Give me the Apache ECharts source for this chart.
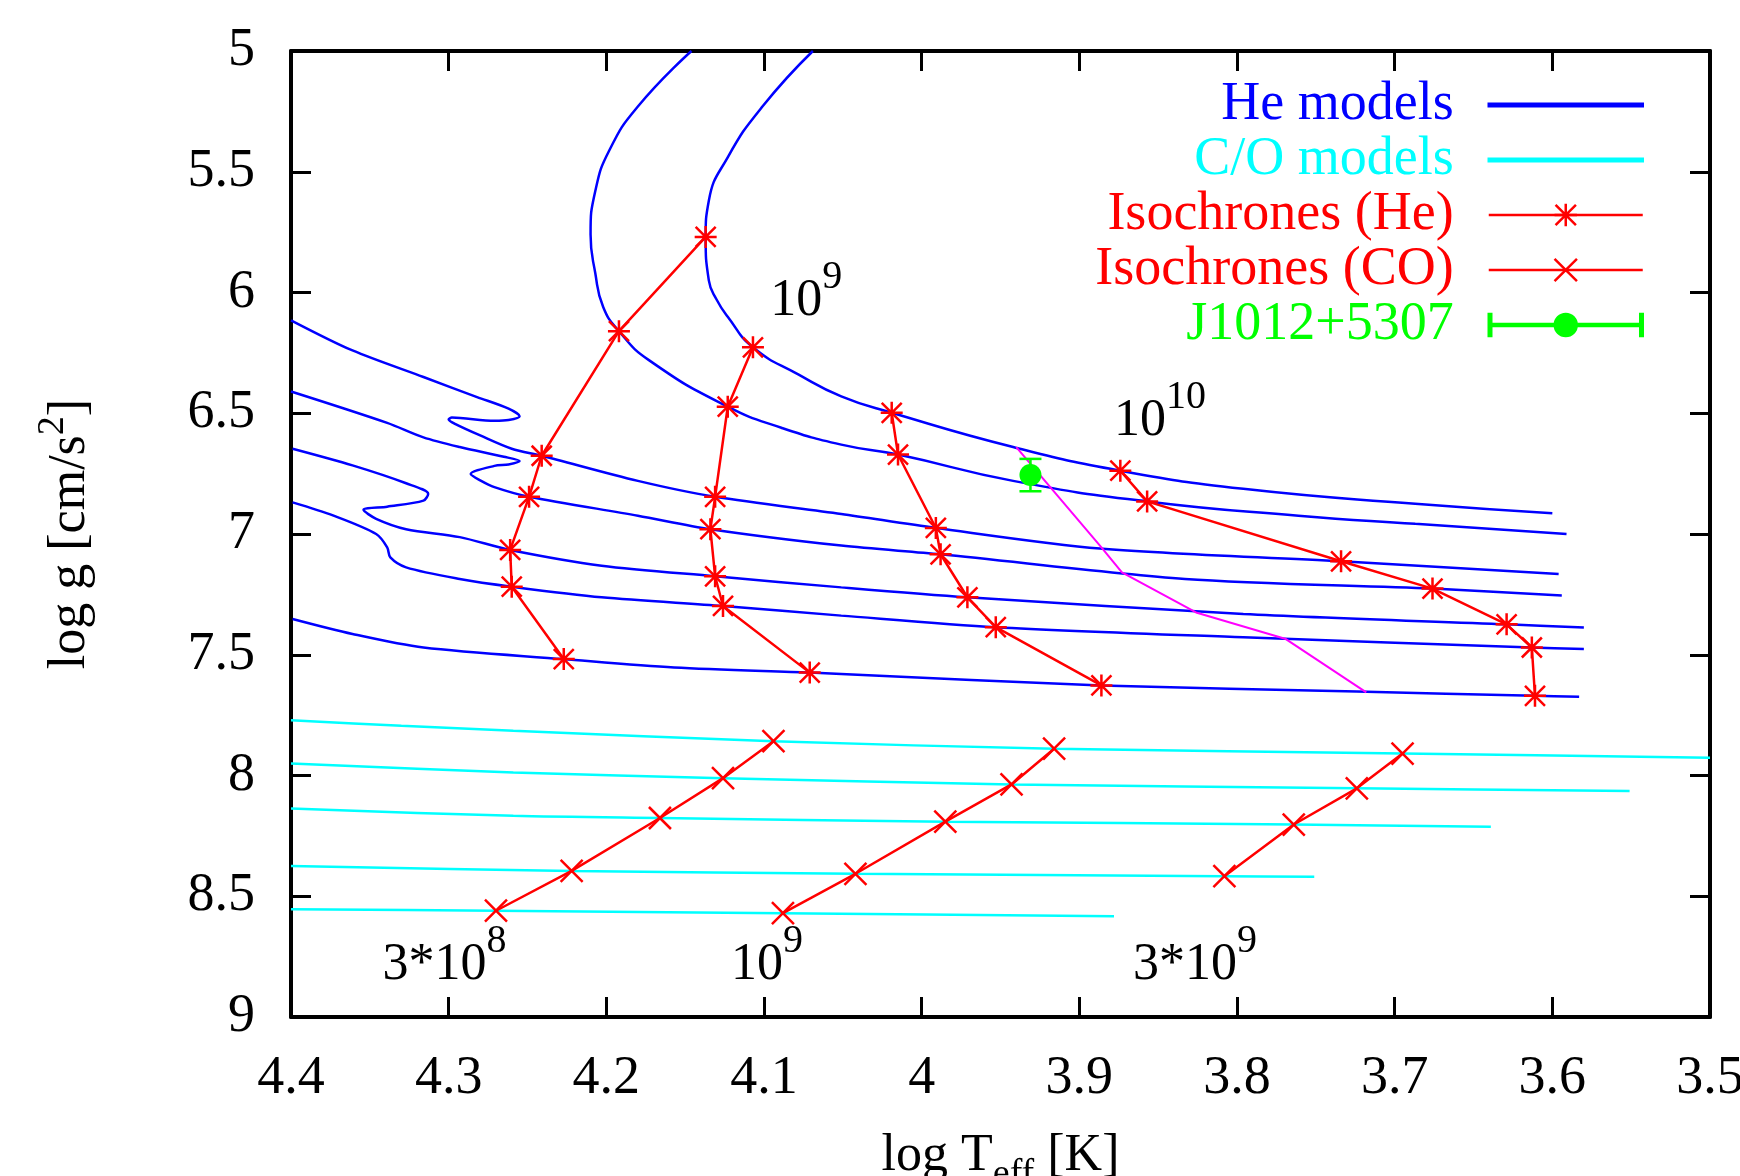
<!DOCTYPE html>
<html>
<head>
<meta charset="utf-8">
<script src="https://cdn.jsdelivr.net/npm/echarts@6/dist/echarts.min.js"></script>
<style>
html, body { margin: 0; padding: 0; background: #fff; }
#grafico { width: 1740px; height: 1176px; }
</style>
</head>
<body>
<div id="grafico"></div>
<script>
// [log Teff, log g]
// He models (top to bottom at the cool end)
var heTrack1 = [[4.069,5.0],[4.101,5.23],[4.123,5.44],[4.135,5.62],[4.137,5.77],[4.135,5.95],[4.130,6.03],[4.123,6.10],[4.107,6.227],[4.078,6.34],[4.051,6.43],[4.019,6.498],[3.942,6.64],[3.874,6.738],[3.796,6.813],[3.687,6.875],[3.600,6.914]];
var heTrack2 = [[4.146,5.0],[4.180,5.23],[4.198,5.41],[4.207,5.58],[4.210,5.76],[4.207,5.92],[4.202,6.06],[4.192,6.16],[4.173,6.28],[4.123,6.473],[4.089,6.56],[4.051,6.63],[4.015,6.671],[3.942,6.78],[3.857,6.865],[3.761,6.924],[3.687,6.958],[3.591,7.0]];
var heTrack3 = [[4.4,6.115],[4.361,6.24],[4.316,6.35],[4.282,6.433],[4.262,6.481],[4.255,6.512],[4.262,6.528],[4.271,6.531],[4.298,6.518],[4.300,6.526],[4.296,6.544],[4.28,6.592],[4.26,6.647],[4.241,6.676],[4.18,6.78],[4.131,6.846],[4.051,6.917],[3.991,6.975],[3.887,7.06],[3.734,7.113],[3.596,7.166]];
var heTrack4 = [[4.4,6.41],[4.339,6.54],[4.316,6.6],[4.293,6.64],[4.265,6.68],[4.255,6.698],[4.262,6.712],[4.271,6.718],[4.286,6.752],[4.28,6.778],[4.271,6.806],[4.249,6.846],[4.18,6.924],[4.134,6.98],[4.051,7.048],[3.988,7.084],[3.833,7.186],[3.676,7.226],[3.594,7.255]];
var heTrack5 = [[4.399,6.647],[4.361,6.716],[4.327,6.79],[4.313,6.834],[4.316,6.862],[4.339,6.887],[4.354,6.90],[4.346,6.937],[4.327,6.98],[4.293,7.013],[4.261,7.066],[4.203,7.131],[4.131,7.175],[4.051,7.221],[3.971,7.262],[3.796,7.331],[3.629,7.374],[3.580,7.387]];
var heTrack6 = [[4.399,6.869],[4.373,6.924],[4.346,7.0],[4.339,7.055],[4.337,7.097],[4.327,7.138],[4.293,7.186],[4.260,7.218],[4.203,7.262],[4.126,7.298],[4.051,7.338],[3.953,7.386],[3.796,7.428],[3.613,7.47],[3.580,7.476]];
var heTrack7 = [[4.399,7.352],[4.361,7.414],[4.316,7.47],[4.227,7.518],[4.157,7.553],[4.071,7.574],[4.051,7.58],[3.886,7.627],[3.724,7.652],[3.611,7.67],[3.583,7.674]];

// C/O models
var coTrack1 = [[4.4,7.771],[4.33,7.794],[4.259,7.815],[4.094,7.858],[3.916,7.889],[3.695,7.909],[3.5,7.926]];
var coTrack2 = [[4.4,7.95],[4.259,7.988],[4.126,8.011],[3.943,8.037],[3.724,8.053],[3.551,8.064]];
var coTrack3 = [[4.4,8.137],[4.259,8.167],[4.166,8.176],[3.985,8.191],[3.764,8.203],[3.639,8.212]];
var coTrack4 = [[4.4,8.375],[4.222,8.395],[4.042,8.407],[3.808,8.417],[3.751,8.419]];
var coTrack5 = [[4.4,8.554],[4.27,8.56],[4.088,8.57],[3.878,8.583]];

// isochrones
var isoHe1 = [[4.137,5.77],[4.192,6.16],[4.241,6.676],[4.249,6.846],[4.261,7.066],[4.260,7.218],[4.227,7.518]];
var isoHe2 = [[4.107,6.227],[4.123,6.473],[4.131,6.846],[4.134,6.98],[4.131,7.175],[4.126,7.298],[4.071,7.574]];
var isoHe3 = [[4.019,6.498],[4.015,6.671],[3.991,6.975],[3.988,7.084],[3.971,7.262],[3.953,7.386],[3.886,7.627]];
var isoHe4 = [[3.874,6.738],[3.857,6.865],[3.734,7.113],[3.676,7.226],[3.629,7.374],[3.613,7.47],[3.611,7.67]];
var isoCO1 = [[4.27,8.56],[4.222,8.395],[4.166,8.176],[4.126,8.011],[4.094,7.858]];
var isoCO2 = [[4.088,8.57],[4.042,8.407],[3.985,8.191],[3.943,8.037],[3.916,7.889]];
var isoCO3 = [[3.808,8.417],[3.764,8.203],[3.724,8.053],[3.695,7.909]];

// magenta track
var magentaTrack = [[3.940,6.64],[3.886,7.055],[3.873,7.159],[3.826,7.325],[3.769,7.435],[3.718,7.656]];

// J1012+5307: logTeff, logg, logg low, logg high
var j1012 = [3.931, 6.756, 6.689, 6.823];

// age labels
var annoBase = ['10', '10', '3*10', '10', '3*10'];
var annoSup = ['9', '10', '8', '9', '9'];
var annoAt = [[4.096,6.143],[3.878,6.641],[4.342,8.894],[4.121,8.894],[3.866,8.894]];

var legendNames = ['He models', 'C/O models', 'Isochrones (He)', 'Isochrones (CO)', 'J1012+5307'];
var legendColors = ['#0000ff', '#00ffff', '#ff0000', '#ff0000', '#00ff00'];
var legendRowY = [105, 160, 215, 270, 325];

var serif = 'Liberation Serif';
var starPath = 'path://M0,-11L0,11M-11,0L11,0M-10,-10L10,10M-10,10L10,-10';
var crossPath = 'path://M-11,-11L11,11M-11,11L11,-11';
var barIcon = 'path://M0,0L154,0L154,2.5L0,2.5Z';
var errIcon = 'path://M0,0L2.5,0L2.5,22L0,22Z M151.5,0L154,0L154,22L151.5,22Z M2.5,10L66.5,10L66.5,12L2.5,12Z M87.5,10L151.5,10L151.5,12L87.5,12Z M66,11A11,11,0,1,1,88,11A11,11,0,1,1,66,11Z';

function lineSeries(name, data, color, extra) {
    var s = {
        name: name,
        type: 'line',
        data: data,
        symbol: 'none',
        smooth: 0.3,
        itemStyle: { color: color },
        lineStyle: { color: color, width: 2.5 },
        z: 2
    };
    for (var k in extra) s[k] = extra[k];
    return s;
}

var series = [];
[heTrack1, heTrack2, heTrack3, heTrack4, heTrack5, heTrack6, heTrack7].forEach(function (d, i) {
    series.push(lineSeries('He models', d, '#0000ff', i < 2 ? { smooth: 0.5 } : {}));
});
[coTrack1, coTrack2, coTrack3, coTrack4, coTrack5].forEach(function (d) {
    series.push(lineSeries('C/O models', d, '#00ffff'));
});
series.push(lineSeries('track', magentaTrack, '#ff00ff', { smooth: false, lineStyle: { color: '#ff00ff', width: 2 }, z: 3 }));
[isoHe1, isoHe2, isoHe3, isoHe4].forEach(function (d) {
    series.push(lineSeries('Isochrones (He)', d, '#ff0000', {
        smooth: false, symbol: starPath, symbolSize: 22, showSymbol: true,
        itemStyle: { color: '#ff0000', borderColor: '#ff0000', borderWidth: 2.5 }, z: 4
    }));
});
[isoCO1, isoCO2, isoCO3].forEach(function (d) {
    series.push(lineSeries('Isochrones (CO)', d, '#ff0000', {
        smooth: false, symbol: crossPath, symbolSize: 22, showSymbol: true,
        itemStyle: { color: '#ff0000', borderColor: '#ff0000', borderWidth: 2.5 }, z: 4
    }));
});
series.push({
    name: 'J1012+5307',
    type: 'custom',
    data: [j1012],
    encode: { x: 0, y: 1 },
    itemStyle: { color: '#00ff00' },
    z: 5,
    renderItem: function (params, api) {
        var c = api.coord([api.value(0), api.value(1)]);
        var lo = api.coord([api.value(0), api.value(2)]);
        var hi = api.coord([api.value(0), api.value(3)]);
        var st = { stroke: '#00ff00', lineWidth: 2.5 };
        return { type: 'group', children: [
            { type: 'line', shape: { x1: c[0], y1: lo[1], x2: c[0], y2: hi[1] }, style: st },
            { type: 'line', shape: { x1: c[0] - 11, y1: lo[1], x2: c[0] + 11, y2: lo[1] }, style: st },
            { type: 'line', shape: { x1: c[0] - 11, y1: hi[1], x2: c[0] + 11, y2: hi[1] }, style: st },
            { type: 'circle', shape: { cx: c[0], cy: c[1], r: 11 }, style: { fill: '#00ff00' } }
        ]};
    }
});

var annoRich = {
    b: { fontFamily: serif, fontSize: 52, verticalAlign: 'bottom', fill: '#000' },
    s: { fontFamily: serif, fontSize: 40, padding: [0, 0, 30, 0], verticalAlign: 'top', fill: '#000' }
};
series.push({
    name: 'ages',
    type: 'custom',
    silent: true,
    data: annoAt.map(function (p, i) { return [p[0], p[1], i]; }),
    encode: { x: 0, y: 1 },
    z: 6,
    renderItem: function (params, api) {
        var p = api.coord([api.value(0), api.value(1)]);
        var i = api.value(2);
        return {
            type: 'text', x: p[0], y: p[1],
            style: {
                text: '{b|' + annoBase[i] + '}{s|' + annoSup[i] + '}',
                rich: annoRich, align: 'left', verticalAlign: 'bottom', fill: '#000'
            }
        };
    }
});

var legends = legendNames.map(function (name, i) {
    var item = { name: name, textStyle: { color: legendColors[i] }, itemStyle: { color: legendColors[i], borderColor: legendColors[i], borderWidth: 2.5 } };
    var lg = {
        data: [item],
        orient: 'horizontal',
        align: 'right',
        right: 96,
        top: legendRowY[i] - 27,
        padding: 0,
        itemWidth: 154,
        itemHeight: 28,
        selectedMode: false,
        lineStyle: { width: 2.5 },
        textStyle: { fontFamily: serif, fontSize: 54, padding: [0, 30, 0, 0] }
    };
    if (i < 2) { item.icon = barIcon; lg.itemHeight = 2.5; }
    if (i === 4) { item.icon = errIcon; lg.itemHeight = 22; }
    return lg;
});

var axisLineStyle = { show: true, lineStyle: { color: '#000', width: 4 } };
var tickStyle = { show: true, inside: true, length: 20, lineStyle: { color: '#000', width: 3 } };
var labelStyle = { fontFamily: serif, fontSize: 54, color: '#000' };

option = {
    backgroundColor: '#fff',
    animation: false,
    grid: { left: 291, right: 30, top: 51, bottom: 159, outerBoundsMode: 'none' },
    legend: legends,
    xAxis: [
        {
            type: 'value', min: 3.5, max: 4.4, interval: 0.1, inverse: true, position: 'bottom',
            axisLine: axisLineStyle, axisTick: tickStyle,
            axisLabel: Object.assign({ margin: 35 }, labelStyle),
            splitLine: { show: false },
            name: '{a|log T}{b|eff}{a| [K]}',
            nameLocation: 'middle',
            nameGap: 113,
            nameTextStyle: {
                rich: {
                    a: { fontFamily: serif, fontSize: 52, verticalAlign: 'top', color: '#000' },
                    b: { fontFamily: serif, fontSize: 38, padding: [26, 0, 0, 0], verticalAlign: 'bottom', color: '#000' }
                }
            }
        },
        {
            type: 'value', min: 3.5, max: 4.4, interval: 0.1, inverse: true, position: 'top',
            axisLine: axisLineStyle, axisTick: tickStyle,
            axisLabel: { show: false }, splitLine: { show: false }
        }
    ],
    yAxis: [
        {
            type: 'value', min: 5, max: 9, interval: 0.5, inverse: true, position: 'left',
            axisLine: axisLineStyle, axisTick: tickStyle,
            axisLabel: Object.assign({ margin: 36 }, labelStyle),
            splitLine: { show: false },
            name: '{a|log g [cm/s}{s|2}{a|]}',
            nameLocation: 'middle',
            nameGap: 195,
            nameTextStyle: {
                rich: {
                    a: { fontFamily: serif, fontSize: 52, verticalAlign: 'bottom', color: '#000' },
                    s: { fontFamily: serif, fontSize: 38, padding: [0, 0, 24, 0], verticalAlign: 'top', color: '#000' }
                }
            }
        },
        {
            type: 'value', min: 5, max: 9, interval: 0.5, inverse: true, position: 'right',
            axisLine: axisLineStyle, axisTick: tickStyle,
            axisLabel: { show: false }, splitLine: { show: false }
        }
    ],
    series: series
};

var dom = document.getElementById('grafico');
var myChart = echarts.init(dom);
if (option && typeof option === 'object') {
    myChart.setOption(option, true);
}
</script>
</body>
</html>
